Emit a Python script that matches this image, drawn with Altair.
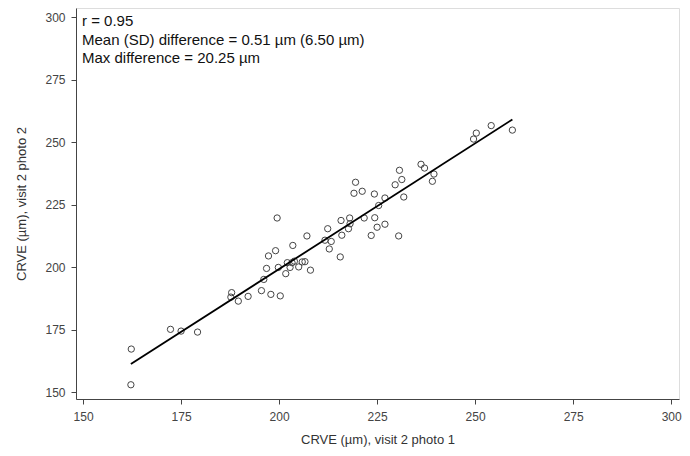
import altair as alt
import pandas as pd

photo1 = [162.3, 162.2, 172.3, 175.0, 179.2, 187.9, 187.7, 189.6, 192.1, 195.5,
          196.1, 196.8, 197.3, 197.9, 199.1, 199.5, 199.8, 200.3, 201.7, 202.1,
          202.8, 203.5, 203.3, 203.9, 205.0, 205.9, 206.6, 207.1, 208.0, 211.7,
          212.4, 212.8, 213.3, 215.6, 215.8, 216.0, 217.7, 218.0, 218.1, 219.1,
          219.5, 221.2, 221.7, 223.5, 224.3, 224.4, 225.0, 225.4, 227.0, 227.0,
          229.6, 230.5, 230.7, 231.3, 231.8, 236.2, 237.1, 239.1, 239.5, 249.6,
          250.3, 254.1, 259.5]
photo2 = [167.2, 152.9, 175.1, 174.4, 174.0, 189.8, 188.0, 186.4, 188.3, 190.6,
          195.1, 199.5, 204.5, 189.1, 206.6, 219.7, 199.9, 188.5, 197.4, 201.8,
          199.9, 208.7, 201.8, 202.4, 200.1, 202.1, 202.2, 212.5, 198.8, 210.8,
          215.4, 207.3, 210.3, 204.1, 218.7, 212.8, 215.4, 219.7, 217.4, 229.6,
          234.0, 230.4, 219.7, 212.7, 229.3, 219.8, 216.0, 224.7, 227.7, 217.2,
          233.0, 212.5, 238.8, 235.1, 228.1, 241.2, 239.7, 234.4, 237.3, 251.3,
          253.7, 256.7, 254.9]

x_ticks = [150, 175, 200, 225, 250, 275, 300]
y_ticks = [150, 175, 200, 225, 250, 275, 300]
notes = ["r = 0.95",
         "Mean (SD) difference = 0.51 µm (6.50 µm)",
         "Max difference = 20.25 µm"]

df = pd.DataFrame({"p1": photo1, "p2": photo2})
FONT = "Liberation Sans"

xs = alt.Scale(domain=[148.2, 302], nice=False, zero=False)
ys = alt.Scale(domain=[147.2, 303.8], nice=False, zero=False)

xax = alt.Axis(values=x_ticks, title="CRVE (µm), visit 2 photo 1", grid=False,
               labelFont=FONT, labelFontSize=12, labelColor="#444",
               titleFont=FONT, titleFontSize=13, titleColor="#333",
               titleFontWeight="normal", tickColor="#444", domainColor="#444",
               tickSize=5, labelPadding=7, titlePadding=11)
yax = alt.Axis(values=y_ticks, title="CRVE (µm), visit 2 photo 2", grid=False,
               labelFont=FONT, labelFontSize=12, labelColor="#444",
               titleFont=FONT, titleFontSize=13, titleColor="#333",
               titleFontWeight="normal", tickColor="#444", domainColor="#444",
               tickSize=5, labelPadding=6, titlePadding=16)

base = alt.Chart(df)
pts = base.mark_point(shape="circle", filled=False, size=40, color="#444",
                      strokeWidth=1, opacity=1).encode(
    x=alt.X("p1:Q", scale=xs, axis=xax),
    y=alt.Y("p2:Q", scale=ys, axis=yax),
)
line = base.transform_regression("p1", "p2").mark_line(
    color="#000", strokeWidth=1.8).encode(
    x=alt.X("p1:Q", scale=xs), y=alt.Y("p2:Q", scale=ys))

texts = []
for i, t in enumerate(notes):
    texts.append(alt.Chart(pd.DataFrame({"t": [t]})).mark_text(
        align="left", baseline="alphabetic", font=FONT, fontSize=15,
        color="#111").encode(text="t:N", x=alt.value(6), y=alt.value(18 + 18.5 * i)))

chart = alt.layer(pts, line, *texts).properties(
    width=603, height=391,
    autosize=alt.AutoSizeParams(type="none"),
    padding={"left": 68, "top": 0, "right": 3, "bottom": 49},
).configure_view(stroke="#444", strokeWidth=1).configure(background="white")

chart.save("out.html", embed_options={"renderer": "svg", "actions": False})
